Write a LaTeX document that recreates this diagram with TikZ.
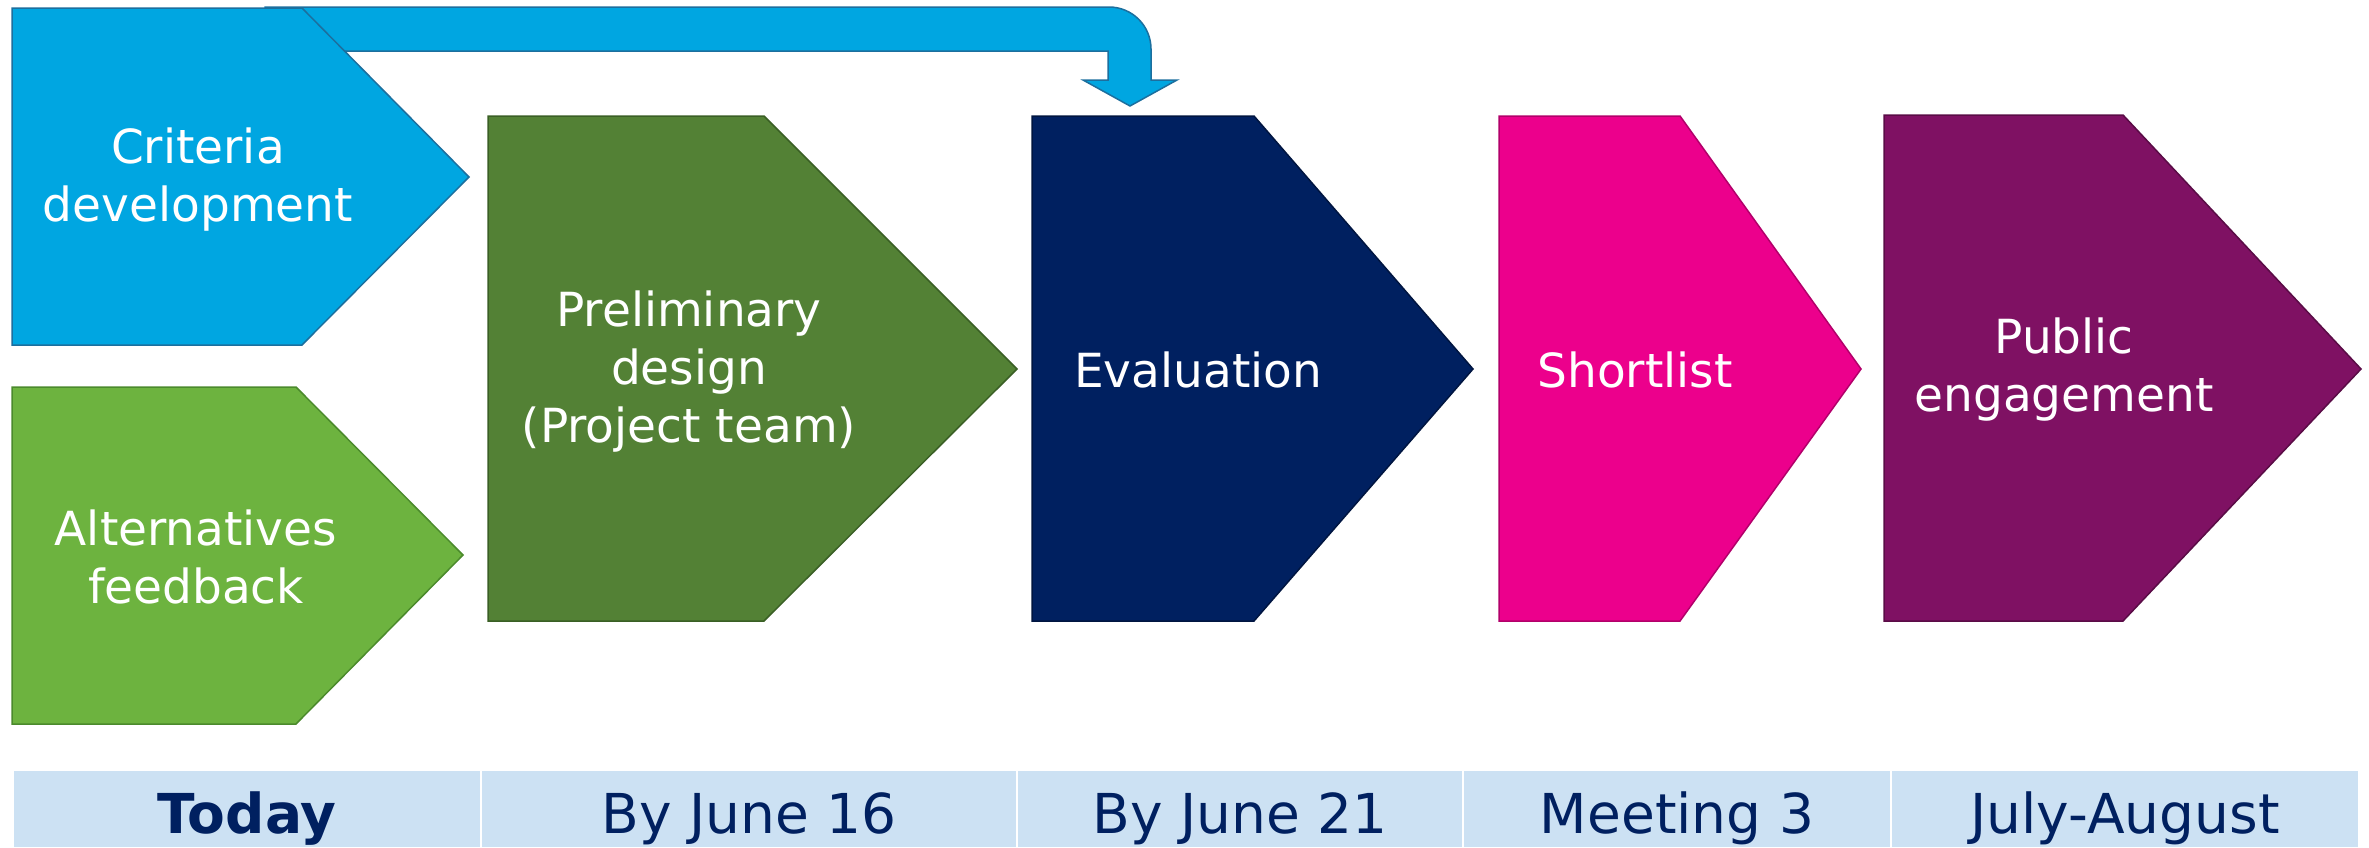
\documentclass[tikz,border=0pt]{standalone}
\usepackage{fontspec}
\setmainfont{DejaVu Sans}
\definecolor{critblue}{HTML}{00A6E1}
\definecolor{critline}{HTML}{1C6F9E}
\definecolor{altgreen}{HTML}{6DB33F}
\definecolor{altline}{HTML}{4B8A2C}
\definecolor{prelgreen}{HTML}{538135}
\definecolor{prelline}{HTML}{3A5F25}
\definecolor{evalnavy}{HTML}{002060}
\definecolor{evalline}{HTML}{001540}
\definecolor{shortpink}{HTML}{EC008C}
\definecolor{shortline}{HTML}{B2006A}
\definecolor{pubpurple}{HTML}{7F1163}
\definecolor{publine}{HTML}{5A0C46}
\definecolor{cellblue}{HTML}{CCE1F3}
\definecolor{datenavy}{HTML}{002060}
\begin{document}
\begin{tikzpicture}[x=1pt, y=-1pt,
  stage/.style = {line width=1.5pt, line join=miter},
  stagetext/.style = {text=white, align=center,
    font=\fontsize{47}{58}\selectfont},
  cell/.style = {fill=cellblue, inner sep=0pt, minimum height=76pt,
    text height=50pt, text depth=2pt, text=datenavy,
    font=\fontsize{55}{66}\selectfont}]
\useasboundingbox (0,0) rectangle (2369,847);

% bent arrow over the top
\coordinate (tip) at (1130,106);
\filldraw[stage, fill=critblue, draw=critline]
  (265,7) -- (1109,7) arc[start angle=90, end angle=0, radius=42pt]
  -- (1151,80) -- (1177,80) -- (tip) -- (1083,80) -- (1108,80)
  -- (1108,51) -- (265,51) -- cycle;

% stages
\filldraw[stage, fill=critblue, draw=critline]
  (12,8) -- (302,8) -- (469,177) -- (302,345) -- (12,345) -- cycle;
\node[stagetext] (crit) at (198,180) {Criteria\\development};

\filldraw[stage, fill=altgreen, draw=altline]
  (12,387) -- (296,387) -- (463,555) -- (296,724) -- (12,724) -- cycle;
\node[stagetext] (alt) at (196,557) {Alternatives\\feedback};

\filldraw[stage, fill=prelgreen, draw=prelline]
  (488,116) -- (764,116) -- (1017,369) -- (764,621) -- (488,621) -- cycle;
\node[stagetext] (prel) at (689,372) {Preliminary\\design\\(Project team)};

\filldraw[stage, fill=evalnavy, draw=evalline]
  (1032,116) -- (1254,116) -- (1473,369) -- (1254,621) -- (1032,621) -- cycle;
\node[stagetext] (eval) at (1198,370) {Evaluation};

\filldraw[stage, fill=shortpink, draw=shortline]
  (1499,116) -- (1680,116) -- (1861,369) -- (1680,621) -- (1499,621) -- cycle;
\node[stagetext] (short) at (1635,370) {Shortlist};

\filldraw[stage, fill=pubpurple, draw=publine]
  (1884,115) -- (2123,115) -- (2361,369) -- (2123,621) -- (1884,621) -- cycle;
\node[stagetext] (pub) at (2064,370) {Public\\engagement};

% timeline
\node[cell, minimum width=466pt] (today) at (247,809) {\textbf{Today}};
\node[cell, minimum width=534pt] (june16) at (749,809) {By June 16};
\node[cell, minimum width=444pt] (june21) at (1240,809) {By June 21};
\node[cell, minimum width=426pt] (meet3) at (1677,809) {Meeting 3};
\node[cell, minimum width=466pt] (julaug) at (2125,809) {July-August};
\end{tikzpicture}
\end{document}
